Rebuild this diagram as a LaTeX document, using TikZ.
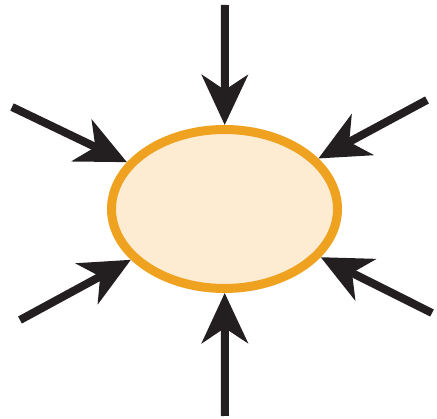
\documentclass[tikz,border=0pt]{standalone}
\usepackage{tikz}
\usetikzlibrary{arrows.meta,shapes.geometric}

\definecolor{rimorange}{HTML}{EFA21F}
\definecolor{creamfill}{HTML}{FDEBD2}
\definecolor{pushblack}{HTML}{231F20}

\begin{document}
\begin{tikzpicture}[x=1pt, y=-1pt,
    cell/.style={ellipse, draw=rimorange, fill=creamfill, line width=9pt, inner sep=0pt, minimum width=226pt, minimum height=159pt},
    push/.style={draw=pushblack, line width=8pt, -{Stealth[length=50pt, width=46pt, inset=15pt]}}
  ]
    \useasboundingbox (0,0) rectangle (437,419);
    \node[cell] (cell) at (224.5,209) {};
    \coordinate (top) at (225,5);
    \coordinate (bottom) at (225,416);
    \coordinate (upleft) at (12,107);
    \coordinate (upright) at (427,100);
    \coordinate (lowleft) at (20,320);
    \coordinate (lowright) at (432,313);
    \foreach \src in {top,bottom,upleft,upright,lowleft,lowright}
      \draw[push] (\src) -- (cell);
  \end{tikzpicture}
\end{document}
